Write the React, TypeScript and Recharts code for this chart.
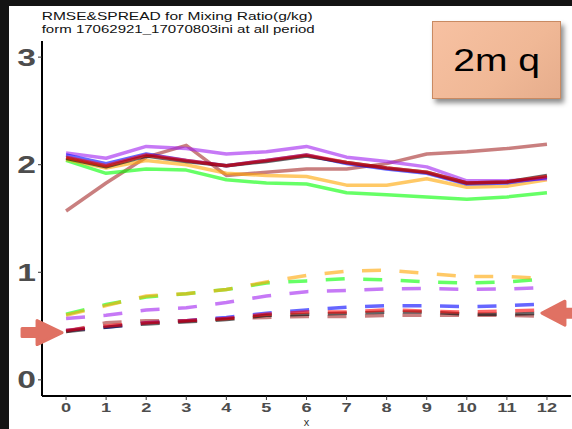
import React from 'react';
import { LineChart, Line, XAxis, YAxis, ReferenceDot } from 'recharts';

const xs = [0, 1, 2, 3, 4, 5, 6, 7, 8, 9, 10, 11, 12];
const yTicks = [0, 1, 2, 3];

// RMSE (solid)
const rmsePurple = [2.11, 2.06, 2.17, 2.15, 2.10, 2.12, 2.17, 2.07, 2.03, 1.98, 1.85, 1.85, 1.87];
const rmseBlue = [2.09, 2.01, 2.10, 2.04, 1.99, 2.04, 2.09, 2.01, 1.96, 1.92, 1.82, 1.83, 1.88];
const rmseBlack = [2.06, 1.98, 2.08, 2.03, 1.99, 2.03, 2.08, 2.02, 1.97, 1.93, 1.83, 1.84, 1.90];
const rmseRed = [2.07, 1.99, 2.09, 2.04, 1.99, 2.04, 2.09, 2.02, 1.97, 1.93, 1.83, 1.84, 1.89];
const rmseOrange = [2.05, 1.97, 2.04, 2.00, 1.92, 1.90, 1.89, 1.81, 1.81, 1.87, 1.79, 1.80, 1.86];
const rmseGreen = [2.04, 1.92, 1.96, 1.95, 1.86, 1.83, 1.82, 1.74, 1.72, 1.70, 1.68, 1.70, 1.74];
const rmseBrown = [1.57, 1.83, 2.07, 2.18, 1.90, 1.93, 1.96, 1.96, 2.01, 2.10, 2.12, 2.15, 2.19];

// SPREAD (dashed)
const sprPurple = [0.57, 0.60, 0.65, 0.67, 0.72, 0.78, 0.82, 0.83, 0.845, 0.85, 0.84, 0.845, 0.86];
const sprBlue = [0.46, 0.49, 0.53, 0.55, 0.58, 0.62, 0.65, 0.675, 0.69, 0.69, 0.68, 0.69, 0.705];
const sprBlack = [0.45, 0.49, 0.52, 0.54, 0.56, 0.60, 0.61, 0.62, 0.63, 0.63, 0.61, 0.61, 0.62];
const sprRed = [0.46, 0.50, 0.53, 0.55, 0.57, 0.61, 0.63, 0.63, 0.65, 0.64, 0.63, 0.64, 0.65];
const sprOrange = [0.60, 0.69, 0.78, 0.80, 0.84, 0.91, 0.97, 1.01, 1.02, 0.99, 0.96, 0.96, 0.94];
const sprGreen = [0.61, 0.70, 0.77, 0.80, 0.84, 0.90, 0.92, 0.94, 0.93, 0.91, 0.90, 0.91, 0.94];
const sprBrown = [0.45, 0.53, 0.55, 0.55, 0.57, 0.58, 0.59, 0.59, 0.60, 0.60, 0.60, 0.60, 0.59];

const series = [
  { name: 'brown', color: '#a52a2a', rmse: rmseBrown, spread: sprBrown },
  { name: 'green', color: '#00ff00', rmse: rmseGreen, spread: sprGreen },
  { name: 'orange', color: '#ffa500', rmse: rmseOrange, spread: sprOrange },
  { name: 'purple', color: '#a020f0', rmse: rmsePurple, spread: sprPurple },
  { name: 'blue', color: '#0000ff', rmse: rmseBlue, spread: sprBlue },
  { name: 'black', color: '#000000', rmse: rmseBlack, spread: sprBlack },
  { name: 'red', color: '#ff0000', rmse: rmseRed, spread: sprRed },
];

const data = xs.map((x, i) => {
  const row: Record<string, number> = { x };
  series.forEach((s) => {
    row[s.name + 'R'] = s.rmse[i];
    row[s.name + 'S'] = s.spread[i];
  });
  return row;
});

const ARROW = '#e07163';

const XTick = (props: any) => {
  const { x, y, payload } = props;
  return (
    <g transform={`translate(${x},${y}) scale(1.4,1)`}>
      <text x={0} y={0} dy="0.71em" textAnchor="middle" fontSize={13} fontWeight="bold"
        fontFamily="Liberation Sans, Arial, sans-serif" fill="#4d4d4d">{payload.value}</text>
    </g>
  );
};

const YTick = (props: any) => {
  const { x, y, payload } = props;
  return (
    <g transform={`translate(${x},${y}) scale(1.4,1)`}>
      <text x={0} y={0} dy="0.355em" textAnchor="end" fontSize={24} fontWeight="bold"
        fontFamily="Liberation Sans, Arial, sans-serif" fill="#4d4d4d">{payload.value}</text>
    </g>
  );
};

const LeftArrow = (props: any) => {
  const { cx, cy } = props;
  const tip = cx - 4;
  const pts = [
    [cx - 44, cy - 4], [cx - 29, cy - 4], [cx - 29, cy - 12], [tip, cy],
    [cx - 29, cy + 12], [cx - 29, cy + 4], [cx - 44, cy + 4],
  ].map((p) => p.join(',')).join(' ');
  return <polygon points={pts} fill={ARROW} stroke={ARROW} strokeWidth={3} strokeLinejoin="round" />;
};

const RightArrow = (props: any) => {
  const { cx, cy } = props;
  const tip = cx - 5;
  const pts = [
    [cx + 40, cy - 4], [cx + 18, cy - 4], [cx + 18, cy - 12], [tip, cy],
    [cx + 18, cy + 12], [cx + 18, cy + 4], [cx + 40, cy + 4],
  ].map((p) => p.join(',')).join(' ');
  return <polygon points={pts} fill={ARROW} stroke={ARROW} strokeWidth={3} strokeLinejoin="round" />;
};

export default function App() {
  return (
    <div style={{ position: 'absolute', left: 0, top: 0, width: 572, height: 429, background: '#141414', overflow: 'hidden' }}>
      <div style={{ position: 'absolute', left: 9, top: 6, right: 0, bottom: 0, background: '#ffffff' }} />
      <div style={{ position: 'absolute', left: 0, top: 0 }}>
        <LineChart width={572} height={429} data={data} margin={{ top: 41, right: 1, left: 10, bottom: 3 }}>
          <XAxis
            type="number"
            dataKey="x"
            domain={[-0.6, 12.6]}
            ticks={xs}
            allowDataOverflow
            interval={0}
            height={30}
            tickSize={4}
            tickMargin={3}
            tick={<XTick />}
            axisLine={{ stroke: '#000', strokeWidth: 2 }}
            tickLine={{ stroke: '#333', strokeWidth: 1 }}
            label={{ value: 'x', position: 'insideBottom', offset: 0, fontSize: 11, fill: '#333', fontFamily: 'Liberation Sans, Arial, sans-serif' }}
          />
          <YAxis
            type="number"
            domain={[-0.15, 3.15]}
            ticks={yTicks}
            allowDataOverflow
            width={32}
            tickSize={4}
            tickMargin={2}
            tick={<YTick />}
            axisLine={{ stroke: '#000', strokeWidth: 2 }}
            tickLine={{ stroke: '#333', strokeWidth: 1 }}
          />
          {series.map((s) => (
            <Line
              key={s.name + 'S'}
              type="linear"
              dataKey={s.name + 'S'}
              stroke={s.color}
              strokeOpacity={0.6}
              strokeWidth={3.5}
              strokeDasharray="19 18.5"
              dot={false}
              activeDot={false}
              isAnimationActive={false}
            />
          ))}
          {series.map((s) => (
            <Line
              key={s.name + 'R'}
              type="linear"
              dataKey={s.name + 'R'}
              stroke={s.color}
              strokeOpacity={0.6}
              strokeWidth={3.5}
              strokeLinejoin="round"
              dot={false}
              activeDot={false}
              isAnimationActive={false}
            />
          ))}
          <ReferenceDot x={0} y={0.44} ifOverflow="visible" shape={<LeftArrow />} />
          <ReferenceDot x={12} y={0.62} ifOverflow="visible" shape={<RightArrow />} />
        </LineChart>
      </div>
      <svg style={{ position: 'absolute', left: 0, top: 0 }} width={572} height={40}>
        <text x={41.7} y={20} fontSize={11.5} fontFamily="Liberation Sans, Arial, sans-serif" fill="#111"
          textLength={271} lengthAdjust="spacingAndGlyphs">RMSE&amp;SPREAD for Mixing Ratio(g/kg)</text>
        <text x={41.7} y={33} fontSize={11.5} fontFamily="Liberation Sans, Arial, sans-serif" fill="#111"
          textLength={273} lengthAdjust="spacingAndGlyphs">form 17062921_17070803ini at all period</text>
      </svg>
      <div style={{
        position: 'absolute', left: 432, top: 21, width: 129, height: 78, boxSizing: 'border-box',
        background: 'linear-gradient(135deg, #f7c1a2 0%, #f0b896 60%, #e6ad8c 100%)',
        border: '1.5px solid #c98a62', boxShadow: '3px 4px 5px rgba(0,0,0,0.45)',
        display: 'flex', alignItems: 'center', justifyContent: 'center',
      }}>
        <span style={{
          fontFamily: 'Liberation Sans, Arial, sans-serif', fontSize: 32, color: '#000',
          display: 'inline-block', transform: 'scaleX(1.22)', lineHeight: 1,
        }}>2m q</span>
      </div>
    </div>
  );
}
